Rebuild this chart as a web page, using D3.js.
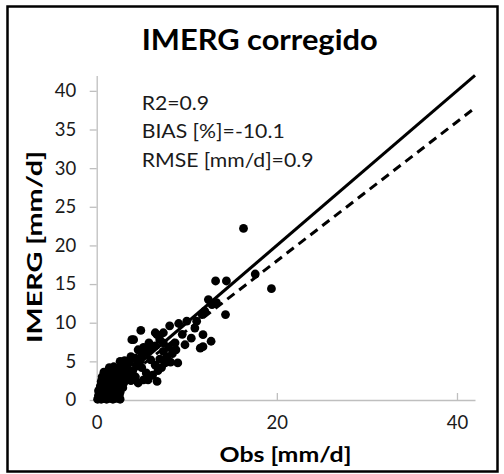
<!DOCTYPE html>
<html>
<head>
<meta charset="utf-8">
<script src="https://cdn.jsdelivr.net/npm/d3@7"></script>
<style>
  html, body { margin: 0; padding: 0; background: #fff; }
  svg { display: block; }
  text { font-family: Lato, "Open Sans", sans-serif; }
</style>
</head>
<body>
<svg id="chart" width="504" height="474"></svg>
<script>
// Observed vs. corrected IMERG daily precipitation [mm/d]
const obs = [
  0.1,0.3,0.5,0.8,1.1,1.4,1.8,2.2,2.6,
  0.2,0.5,0.9,1.3,1.7,2.1,2.5,
  0.2,0.6,1.0,1.4,1.8,2.2,2.6,
  0.4,0.8,1.2,1.6,2.0,2.4,2.9,
  0.5,0.9,1.3,1.7,2.1,2.5,3.0,
  0.6,1.0,1.4,1.8,2.2,2.7,3.2,
  0.8,1.2,1.6,2.0,2.5,3.0,
  1.4,1.9,2.4,2.9,3.4,
  2.6,3.1,3.6,
  3.5,4.0,4.4,4.8,3.8,4.3,5.0,5.5,4.6,5.2,6.0,6.5,5.8,3.9,4.9,
  3.8,4.3,4.6,5.2,5.7,6.7,5.5,6.2,6.8,7.2,7.6,8.2,9.0,6.5,7.0,7.8,8.4,6.0,5.0,
  7.4,8.0,8.8,7.0,6.7,7.4,8.1,9.1,10.0,10.9,11.1,11.8,11.5,11.8,12.7,9.8,8.7,7.4,5.7,6.5,10.5,9.5,
  12.0,11.7,12.4,12.8,13.3,13.2,14.4,14.3,17.6,19.4,16.3,4.1
];
const imerg = [
  0.1,0.2,0.1,0.2,0.1,0.2,0.1,0.2,0.1,
  0.6,0.7,0.6,0.7,0.6,0.7,0.6,
  1.2,1.2,1.3,1.1,1.2,1.3,1.0,
  1.8,1.9,1.8,1.9,1.7,1.8,1.6,
  2.4,2.5,2.4,2.5,2.3,2.4,2.2,
  3.0,3.1,3.0,3.1,2.9,3.0,2.8,
  3.6,3.7,3.6,3.7,3.5,3.6,
  4.2,4.3,4.1,4.4,4.0,
  5.0,5.1,4.8,
  3.3,3.8,4.5,5.0,5.6,5.4,5.8,6.2,6.5,6.8,6.6,7.0,7.4,7.8,9.0,
  2.5,3.0,2.2,2.6,2.6,2.4,3.5,3.2,3.8,4.2,4.8,4.9,4.8,4.5,5.3,5.6,6.0,5.2,4.2,
  6.3,6.8,6.5,7.8,8.45,8.7,9.6,9.9,10.2,9.3,10.2,8.45,6.7,6.9,7.6,7.15,7.4,7.4,6.9,8.7,8.0,8.5,
  11.5,11.05,13.0,12.35,12.6,15.4,15.4,11.05,16.3,14.4,22.2,7.8
];
const points = obs.map((o, i) => ({ obs: o, imerg: imerg[i] }));

// 1:1 reference line and fitted regression line
const oneToOne = [[0, 0], [42, 42]];
const fitSlope = 0.9;
const fitLine = [[0, 0], [42, 42 * fitSlope]];

const xTicks = [0, 20, 40];
const yTicks = [0, 5, 10, 15, 20, 25, 30, 35, 40];
const statsLines = ["R2=0.9", "BIAS [%]=-10.1", "RMSE [mm/d]=0.9"];

const svg = d3.select("#chart");

// outer frame
svg.append("rect")
  .attr("x", 7.5).attr("y", 6.5)
  .attr("width", 490).attr("height", 465)
  .attr("fill", "#fff").attr("stroke", "#000").attr("stroke-width", 2.5);

const x = d3.scaleLinear().domain([0, 42]).range([96.7, 475]);
const y = d3.scaleLinear().domain([0, 42]).range([400, 75.4]);

// axes
const xAxis = svg.append("g")
  .attr("transform", `translate(0,${y(0)})`)
  .call(d3.axisBottom(x).tickValues(xTicks).tickSize(-7).tickSizeOuter(0).tickPadding(16));
const yAxis = svg.append("g")
  .attr("transform", `translate(${x(0)},0)`)
  .call(d3.axisLeft(y).tickValues(yTicks).tickSize(7).tickSizeOuter(0).tickPadding(13.5));

[xAxis, yAxis].forEach(g => {
  g.select(".domain").attr("stroke", "#bfbfbf").attr("stroke-width", 1.3);
  g.selectAll(".tick line").attr("stroke", "#bfbfbf").attr("stroke-width", 1.3);
  g.selectAll(".tick text")
    .attr("fill", "#1a1a1a")
    .style("font-size", "18.5px")
    .style("font-family", "Lato, 'Open Sans', sans-serif");
});
xAxis.selectAll(".tick text").attr("dy", "0.71em");

// scatter points
svg.append("g")
  .selectAll("circle")
  .data(points)
  .join("circle")
  .attr("cx", d => x(d.obs))
  .attr("cy", d => y(d.imerg))
  .attr("r", 4.4)
  .attr("fill", "#000");

const line = d3.line().x(d => x(d[0])).y(d => y(d[1]));

svg.append("path")
  .attr("d", line(oneToOne))
  .attr("fill", "none").attr("stroke", "#000").attr("stroke-width", 3);

svg.append("path")
  .attr("d", line(fitLine))
  .attr("fill", "none").attr("stroke", "#000").attr("stroke-width", 3)
  .attr("stroke-dasharray", "9,6");

// widen text horizontally by a common factor
function stretch(sel, factor) {
  sel.each(function () {
    const w = this.getComputedTextLength();
    d3.select(this).attr("textLength", w * factor).attr("lengthAdjust", "spacingAndGlyphs");
  });
}

// title
const title = svg.append("text")
  .attr("x", 141.7).attr("y", 50)
  .style("font-size", "28px").style("font-weight", "bold")
  .attr("fill", "#000")
  .text("IMERG corregido");
title.attr("textLength", 236).attr("lengthAdjust", "spacingAndGlyphs");

// statistics block
const stats = svg.append("g").selectAll("text")
  .data(statsLines)
  .join("text")
  .attr("x", 141.7)
  .attr("y", (d, i) => 110 + i * 28.3)
  .style("font-size", "18.5px")
  .attr("fill", "#1a1a1a")
  .text(d => d);
const biasNatural = stats.filter((d, i) => i === 1).node().getComputedTextLength();
stretch(stats, 143 / biasNatural);

// axis titles
const xTitle = svg.append("text")
  .attr("x", 285.5).attr("y", 461.7)
  .attr("text-anchor", "middle")
  .style("font-size", "21px").style("font-weight", "bold")
  .attr("fill", "#000")
  .text("Obs [mm/d]");
xTitle.attr("textLength", 132).attr("lengthAdjust", "spacingAndGlyphs");

const yTitle = svg.append("text")
  .attr("transform", "translate(41.7,247) rotate(-90)")
  .attr("text-anchor", "middle")
  .style("font-size", "21px").style("font-weight", "bold")
  .attr("fill", "#000")
  .text("IMERG [mm/d]");
yTitle.attr("textLength", 192).attr("lengthAdjust", "spacingAndGlyphs");
</script>
</body>
</html>
